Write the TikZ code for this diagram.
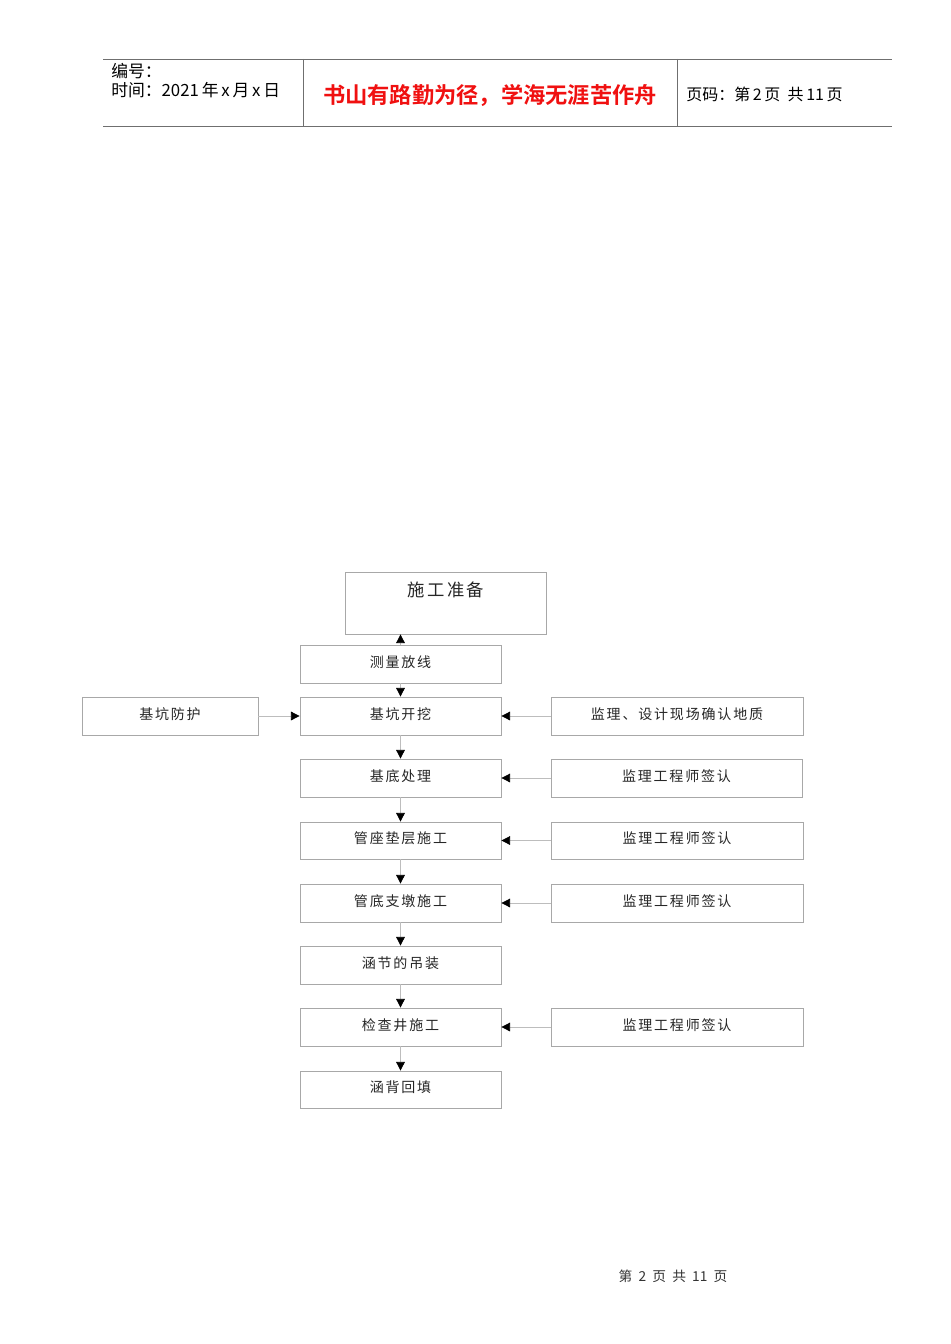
\documentclass[tikz,border=0pt]{standalone}
\usepackage{fontspec}
\usetikzlibrary{arrows.meta}
\newfontfamily\cjk{Noto Sans CJK SC}
\newfontfamily\cjksp[LetterSpace=13]{Noto Sans CJK SC}
\newfontfamily\cjkb[BoldFont={Noto Sans CJK SC Bold}]{Noto Sans CJK SC}
\definecolor{boxgray}{HTML}{A8A8A8}
\definecolor{linegray}{HTML}{BDBDBD}
\definecolor{hdrgray}{HTML}{6F6F6F}
\definecolor{titlered}{HTML}{F01010}
\tikzset{
  box/.style={draw=boxgray, line width=0.6pt, rectangle, inner sep=0pt, text height=9.2pt, text depth=4.3pt, font=\cjksp\fontsize{10.5pt}{12pt}\selectfont, text=black!85},
  conn/.style={draw=linegray, line width=0.6pt, -{Triangle[color=black, length=6.5pt, width=6.5pt]}},
  hdr/.style={draw=hdrgray, line width=0.7pt}
}
\newcommand{\bx}[6]{\node[box, minimum width={(#4-#2)*0.75pt}, minimum height={(#5-#3)*0.75pt}] (#1) at ({(#2+#4)/2},{(#3+#5)/2}) {#6};}
\begin{document}
\begin{tikzpicture}[x=0.75pt, y=-0.75pt]
\useasboundingbox[fill=white] (0,0) rectangle (950,1344);
% header
\coordinate (h1) at (103,59);
\coordinate (h2) at (892,59);
\coordinate (h3) at (103,126);
\coordinate (h4) at (892,126);
\draw[hdr] (h1) -- (h2);
\draw[hdr] (h3) -- (h4);
\coordinate (v1a) at (303,59);
\coordinate (v1b) at (303,126);
\coordinate (v2a) at (677,59);
\coordinate (v2b) at (677,126);
\draw[hdr] (v1a) -- (v1b);
\draw[hdr] (v2a) -- (v2b);
\node[anchor=west, inner sep=0pt, font=\cjk\fontsize{12.6pt}{14pt}\selectfont] (bh) at (111,71) {编号：};
\node[anchor=west, inner sep=0pt, font=\cjk\fontsize{12.6pt}{14pt}\selectfont] (sj) at (111,90) {时间：2021\,年\,x\,月\,x\,日};
\node[inner sep=0pt, font=\cjkb\bfseries\fontsize{16.7pt}{18pt}\selectfont, text=titlered] (title) at (490,95) {书山有路勤为径，学海无涯苦作舟};
\node[anchor=west, inner sep=0pt, font=\cjk\fontsize{12pt}{14pt}\selectfont] (ym) at (686,94) {页码：第\,2\,页\ \ 共\,11\,页};
% flowchart
\bx{sg}{345}{572}{546}{634}{}
\node[inner sep=0pt, font=\cjksp\fontsize{13pt}{15pt}\selectfont, text=black!85] (sgt) at (446,590) {施工准备};
\bx{cl}{300}{645}{501}{683}{测量放线}
\bx{fh}{82}{697}{258}{735}{基坑防护}
\bx{kw}{300}{697}{501}{735}{基坑开挖}
\bx{j1}{551}{697}{803}{735}{监理、设计现场确认地质}
\bx{jd}{300}{759}{501}{797}{基底处理}
\bx{j2}{551}{759}{802}{797}{监理工程师签认}
\bx{gz}{300}{822}{501}{859}{管座垫层施工}
\bx{j3}{551}{822}{803}{859}{监理工程师签认}
\bx{zd}{300}{884}{501}{922}{管底支墩施工}
\bx{j4}{551}{884}{803}{922}{监理工程师签认}
\bx{dz}{300}{946}{501}{984}{涵节的吊装}
\bx{jc}{300}{1008}{501}{1046}{检查井施工}
\bx{j5}{551}{1008}{803}{1046}{监理工程师签认}
\bx{ht}{300}{1071}{501}{1108}{涵背回填}
% connectors
\draw[conn] (cl.north) -- (cl.north |- sg.south);
\draw[conn] (cl.south) -- (kw.north);
\draw[conn] (kw.south) -- (jd.north);
\draw[conn] (jd.south) -- (gz.north);
\draw[conn] (gz.south) -- (zd.north);
\draw[conn] (zd.south) -- (dz.north);
\draw[conn] (dz.south) -- (jc.north);
\draw[conn] (jc.south) -- (ht.north);
\draw[conn] (fh.east) -- (kw.west);
\draw[conn] (j1.west) -- (kw.east);
\draw[conn] (j2.west) -- (jd.east);
\draw[conn] (j3.west) -- (gz.east);
\draw[conn] (j4.west) -- (zd.east);
\draw[conn] (j5.west) -- (jc.east);
% footer
\node[inner sep=0pt, font=\cjk\fontsize{10.3pt}{12pt}\selectfont, text=black!80] (ft) at (673,1276) {第\ \ 2\ \ 页\ \ 共\ \ 11\ \ 页};
\end{tikzpicture}
\end{document}
